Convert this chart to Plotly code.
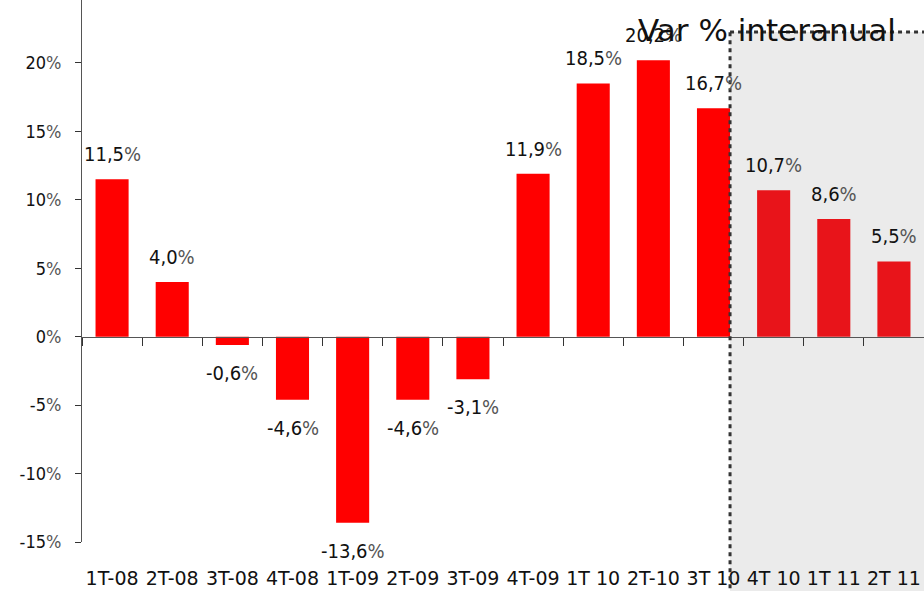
import plotly.graph_objects as go

# Data
quarters = ["1T-08", "2T-08", "3T-08", "4T-08", "1T-09", "2T-09", "3T-09",
            "4T-09", "1T 10", "2T-10", "3T 10", "4T 10", "1T 11", "2T 11"]
values = [11.5, 4.0, -0.6, -4.6, -13.6, -4.6, -3.1,
          11.9, 18.5, 20.2, 16.7, 10.7, 8.6, 5.5]
n_actual = 11  # last 3 are forecast (grey area)
y_ticks = [-15, -10, -5, 0, 5, 10, 15, 20]

Y_MIN, Y_MAX = -15, 24.6
BARGAP = 0.45
FONT = "DejaVu Sans Condensed, DejaVu Sans"
PCT = "<span style='color:#555'>%</span>"

colors = ["#ff0000"] * n_actual + ["#e8141a"] * (len(values) - n_actual)

fig = go.Figure()

fig.add_trace(go.Bar(
    x=quarters, y=values,
    marker=dict(color=colors, line=dict(width=0)),
    hoverinfo="x+y",
    showlegend=False,
))

# invisible trace to anchor the zero-line axis
fig.add_trace(go.Scatter(
    x=quarters, y=[0] * len(quarters), xaxis="x2",
    mode="markers", marker=dict(opacity=0), hoverinfo="skip",
    showlegend=False,
))

# value labels
for q, v in zip(quarters, values):
    txt = ("%.1f" % v).replace(".", ",") + PCT
    fig.add_annotation(
        x=q, y=v, text=txt, showarrow=False,
        yanchor="bottom" if v >= 0 else "top",
        yshift=11 if v >= 0 else -14,
        font=dict(family=FONT, size=20, color="#111"),
    )

# forecast area
split = n_actual - 1 + (1 - BARGAP) / 2
top = 1 - 32 / 542
fig.add_shape(type="rect", xref="x", yref="paper",
              x0=split, x1=len(quarters) - 0.5, y0=-0.1, y1=top,
              fillcolor="#ebebeb", line=dict(width=0), layer="below")
fig.add_shape(type="line", xref="x", yref="paper",
              x0=split, x1=split, y0=-0.1, y1=top,
              line=dict(color="#333", width=3, dash="4px,4px"))
fig.add_shape(type="line", xref="x", yref="paper",
              x0=split, x1=len(quarters) - 0.5, y0=top, y1=top,
              line=dict(color="#333", width=3, dash="4px,4px"))

fig.add_annotation(
    text="Var % interanual", xref="paper", yref="paper",
    x=0.658, y=1 - 30 / 542, xanchor="left", yanchor="middle", showarrow=False,
    font=dict(family="DejaVu Sans", size=31, color="#111"),
)

fig.update_layout(
    width=924, height=591,
    margin=dict(l=82, r=0, t=0, b=49, autoexpand=False),
    plot_bgcolor="white", paper_bgcolor="white",
    bargap=BARGAP,
    xaxis=dict(
        showline=False, ticks="", showgrid=False, zeroline=False,
        tickfont=dict(family="DejaVu Sans", size=19, color="#111"),
        ticklabelstandoff=23, automargin=False,
        range=[-0.5, len(quarters) - 0.5],
    ),
    xaxis2=dict(
        overlaying="x", matches="x", anchor="free",
        position=(0 - Y_MIN) / (Y_MAX - Y_MIN),
        showline=True, linecolor="#555", linewidth=1,
        ticks="outside", tickson="boundaries", ticklen=8,
        tickcolor="#333", showticklabels=False, showgrid=False,
        automargin=False,
    ),
    yaxis=dict(
        range=[Y_MIN, Y_MAX],
        tickvals=y_ticks,
        ticktext=["%d" % t + PCT for t in y_ticks],
        showline=True, linecolor="#555", linewidth=1,
        ticks="outside", ticklen=6, tickcolor="#333",
        showgrid=False, zeroline=False,
        tickfont=dict(family=FONT, size=18, color="#111"),
        ticklabelstandoff=10, automargin=False,
    ),
)

# page body has a default 8px margin; drop it so the figure fills the window
fig.write_html("out.html", config={"displayModeBar": False},
               post_script="document.body.style.margin='0';")
